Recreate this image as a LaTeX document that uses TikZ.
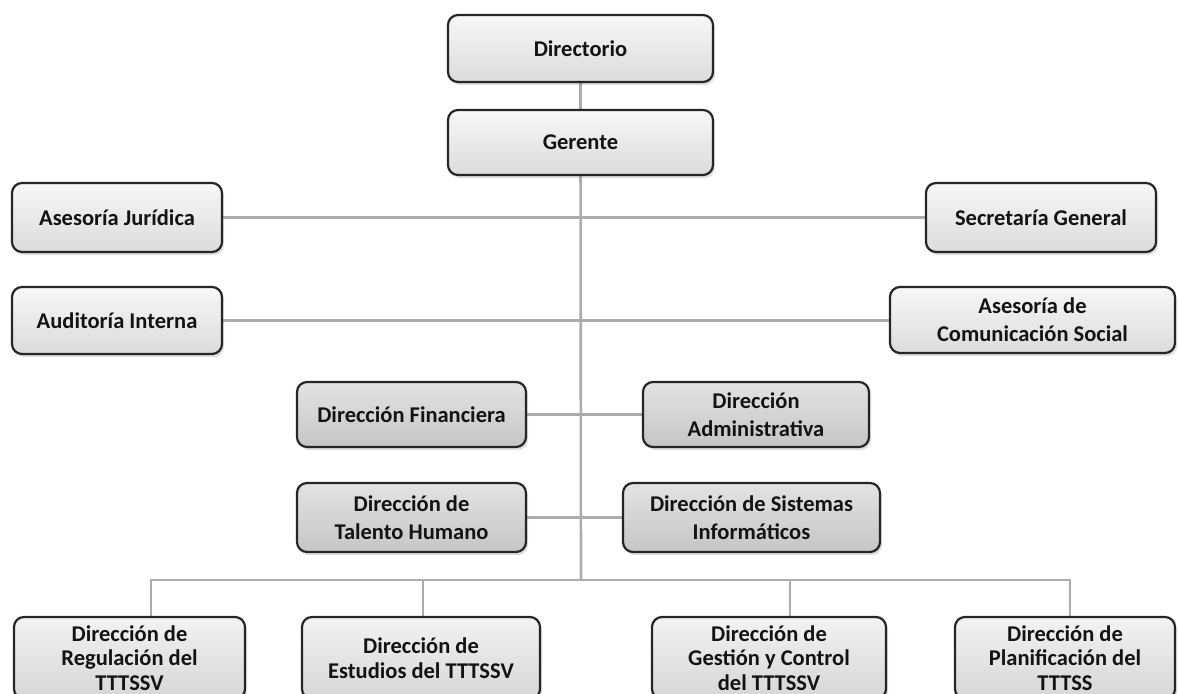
\documentclass[tikz,border=0pt]{standalone}
\usepackage{fontspec}
\setmainfont{Carlito}
\usetikzlibrary{shadows,backgrounds}

\tikzset{
    caja/.style={draw=gray!30!black, line width=2.2pt, rounded corners=10pt,
        align=center, text=gray!15!black, font=\bfseries\fontsize{22.5}{28}\selectfont,
        top color=gray!6, bottom color=gray!28, inner sep=2pt,
        drop shadow={opacity=0.25, shadow xshift=2pt, shadow yshift=-3pt}},
    cajaclara/.style={caja},
    cajamedia/.style={caja, top color=gray!22, bottom color=gray!45},
    cajabaja/.style={caja, top color=gray!10, bottom color=gray!32,
        font=\bfseries\fontsize{22.5}{24.5}\selectfont},
    enlace/.style={draw=gray!65, line width=2.6pt}
}

\begin{document}
\begin{tikzpicture}[x=1pt, y=-1pt]
    \useasboundingbox (0,0) rectangle (1179,694);

    % Dirección superior
    \node[cajaclara, minimum width=265, minimum height=67] (dir) at (580.5,48.5) {Directorio};
    \node[cajaclara, minimum width=265, minimum height=65] (ger) at (580.5,142.5) {Gerente};

    % Asesorías y apoyo
    \node[cajaclara, minimum width=210, minimum height=69] (juri) at (117,217.5) {Asesoría Jurídica};
    \node[cajaclara, minimum width=230, minimum height=69] (secr) at (1041,217.5) {Secretaría General};
    \node[cajaclara, minimum width=210, minimum height=67] (audi) at (117,320.5) {Auditoría Interna};
    \node[cajaclara, minimum width=285, minimum height=66] (comu) at (1032.5,320) {Asesoría de\\Comunicación Social};

    % Direcciones de apoyo
    \node[cajamedia, minimum width=229, minimum height=65] (fin) at (411.5,414.5) {Dirección Financiera};
    \node[cajamedia, minimum width=226, minimum height=65] (adm) at (756,414.5) {Dirección\\Administrativa};
    \node[cajamedia, minimum width=229, minimum height=69] (tal) at (411.5,517.5) {Dirección de\\Talento Humano};
    \node[cajamedia, minimum width=257, minimum height=69] (sis) at (751.5,517.5) {Dirección de Sistemas\\Informáticos};

    % Direcciones operativas (cortadas abajo)
    \node[cajabaja, minimum width=231, minimum height=82] (reg) at (129.5,658) {Dirección de\\Regulación del\\TTTSSV};
    \node[cajabaja, minimum width=238, minimum height=82] (est) at (421,658) {Dirección de\\Estudios del TTTSSV};
    \node[cajabaja, minimum width=234, minimum height=82] (ges) at (769,658) {Dirección de\\Gestión y Control\\del TTTSSV};
    \node[cajabaja, minimum width=220, minimum height=82] (pla) at (1065,658) {Dirección de\\Planificación del\\TTTSS};

    % Barra inferior
    \coordinate (bus) at (581,580);
    \coordinate (regtop) at (151,617);
    \coordinate (esttop) at (423,617);
    \coordinate (gestop) at (790,617);
    \coordinate (platop) at (1070,617);

    % Conectores
    \begin{scope}[on background layer]
        \draw[enlace] (dir) -- (ger);
        \draw[enlace] (ger) -- (bus);
        \draw[enlace] (juri) -- (secr);
        \draw[enlace] (audi.east) -- (audi.east -| comu.west);
        \draw[enlace] (fin) -- (adm);
        \draw[enlace] (tal) -- (sis);
        \draw[enlace] (regtop) |- (bus) -| (platop);
        \foreach \p in {esttop,gestop} {
            \draw[enlace] (\p) |- (bus);
        }
    \end{scope}
\end{tikzpicture}
\end{document}
